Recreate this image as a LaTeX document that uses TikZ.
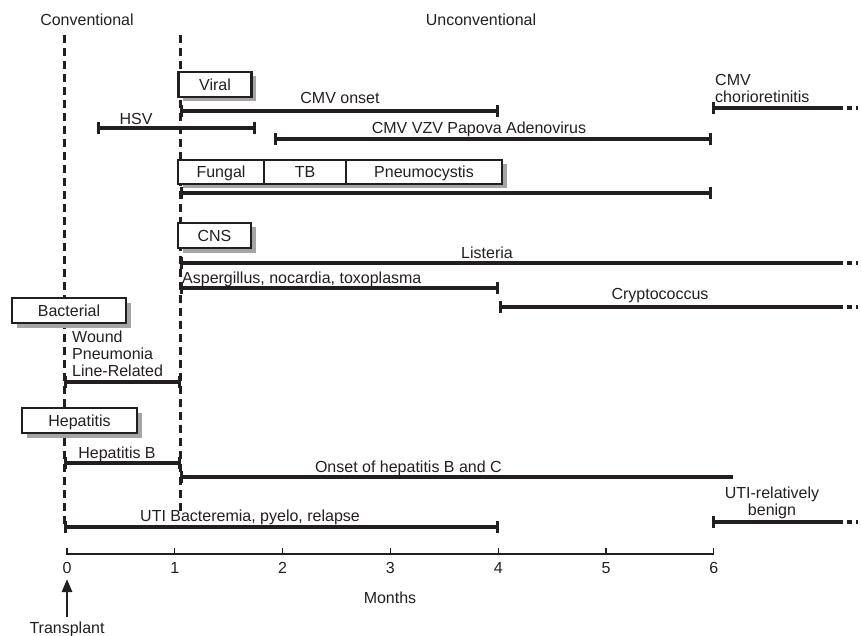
\documentclass[tikz,border=0pt]{standalone}
\usepackage{fontspec}
\setmainfont{Liberation Sans}
\usetikzlibrary{arrows.meta,shadows}
\definecolor{ink}{RGB}{35,31,32}
\definecolor{shade}{RGB}{165,165,165}
\begin{document}
\begin{tikzpicture}[x=1pt,y=-1pt,
  every node/.style={font=\fontsize{16}{19}\selectfont, text=ink, inner sep=0pt},
  span/.style={draw=ink, line width=3.3pt, {Bar[width=12pt]}-{Bar[width=12pt]}},
  spanL/.style={draw=ink, line width=3.3pt, {Bar[width=12pt]}-},
  trail/.style={draw=ink, line width=3.3pt, dash pattern=on 5pt off 4pt},
  guide/.style={draw=ink, line width=3pt, dash pattern=on 8pt off 5pt},
  box/.style={draw=ink, line width=2.2pt, fill=white, text height=11.5pt, text depth=0pt,
    drop shadow={shadow xshift=4.5pt, shadow yshift=-4.5pt, fill=shade, opacity=1}},
  lbl/.style={anchor=base},
  lblw/.style={anchor=base west},
]
\useasboundingbox (0,0) rectangle (861,636);
% headings
\node[lbl] (conv) at (87,26) {Conventional};
\node[lbl] (unconv) at (481,26) {Unconventional};
% guide lines
\coordinate (g1t) at (64,35); \coordinate (g1b) at (64,527);
\coordinate (g2t) at (180,35); \coordinate (g2b) at (180,513);
\draw[guide] (g1t) -- (g1b);
\draw[guide] (g2t) -- (g2b);
% Viral
\node[box, minimum width=73pt, minimum height=25pt] (viral) at (215,84.5) {Viral};
\draw[span] (180,111) -- (499,111);
\node[lbl] (cmvon) at (340,104) {CMV onset};
\draw[span] (97,128) -- (256,128);
\node[lbl] (hsv) at (136,124.5) {HSV};
\draw[span] (274,139) -- (712,139);
\node[lbl] (cmvvzv) at (479,133.5) {CMV VZV Papova Adenovirus};
\draw[spanL] (712,108) -- (838,108);
\draw[trail] (838,108) -- (858,108);
\node[lblw] (cmv2) at (715,85.5) {CMV};
\node[lblw] (chorio) at (715,102.5) {chorioretinitis};
% Fungal / TB / Pneumocystis
\node[box, minimum width=324pt, minimum height=24pt] (fbox) at (340,172) {};
\draw[ink, line width=1.4pt] (264,160) -- (264,184);
\draw[ink, line width=1.4pt] (346,160) -- (346,184);
\node[lbl] (fungal) at (221,177.7) {Fungal};
\node[lbl] (tb) at (305,177.7) {TB};
\node[lbl] (pneumo) at (424,177.7) {Pneumocystis};
\draw[span] (180,193) -- (712,193);
% CNS
\node[box, minimum width=73pt, minimum height=25pt] (cns) at (214.5,235.5) {CNS};
\draw[spanL] (180,263) -- (838,263);
\draw[trail] (838,263) -- (858,263);
\node[lbl] (listeria) at (487,258.5) {Listeria};
\draw[span] (180,288) -- (499,288);
\node[lblw] (asper) at (182,283.5) {Aspergillus, nocardia, toxoplasma};
\draw[spanL] (499,307) -- (838,307);
\draw[trail] (838,307) -- (858,307);
\node[lbl] (crypto) at (660,299.5) {Cryptococcus};
% Bacterial
\node[box, minimum width=114pt, minimum height=25pt] (bact) at (69,310.5) {Bacterial};
\node[lblw] (wound) at (72,342.5) {Wound};
\node[lblw] (pneumonia) at (72,359.5) {Pneumonia};
\node[lblw] (linerel) at (72,376.5) {Line-Related};
\draw[span] (64,382) -- (181,382);
% Hepatitis
\node[box, minimum width=115pt, minimum height=25pt] (hep) at (79.5,420.5) {Hepatitis};
\node[lbl] (hepb) at (117,458.5) {Hepatitis B};
\draw[span] (64,463) -- (181,463);
\draw[spanL] (180,477) -- (733,477);
\node[anchor=base east] (onset) at (502,472.5) {Onset of hepatitis B and C};
% UTI
\draw[span] (64,527) -- (499,527);
\node[lblw] (uti) at (140,521.5) {UTI Bacteremia, pyelo, relapse};
\draw[spanL] (712,522) -- (838,522);
\draw[trail] (838,522) -- (858,522);
\node[lbl] (utirel) at (772,498.5) {UTI-relatively};
\node[lbl] (benign) at (772,515.5) {benign};
% axis
\draw[ink, line width=1.5pt] (67,554) -- (714,554);
\foreach \i in {0,...,6} {
  \draw[ink, line width=1.3pt] (67+107.8*\i,547.5) -- (67+107.8*\i,554.7);
  \node[lbl] (t\i) at (67+107.8*\i,573.5) {\i};
}
\node[lbl] (months) at (390,603.5) {Months};
\node[lbl] (transplant) at (67,633.5) {Transplant};
\coordinate (arrb) at (67,617);
\coordinate (arrt) at (67,579);
\draw[ink, line width=2.7pt, -{Triangle[width=10pt,length=13pt]}] (arrb) -- (arrt);
\end{tikzpicture}
\end{document}
